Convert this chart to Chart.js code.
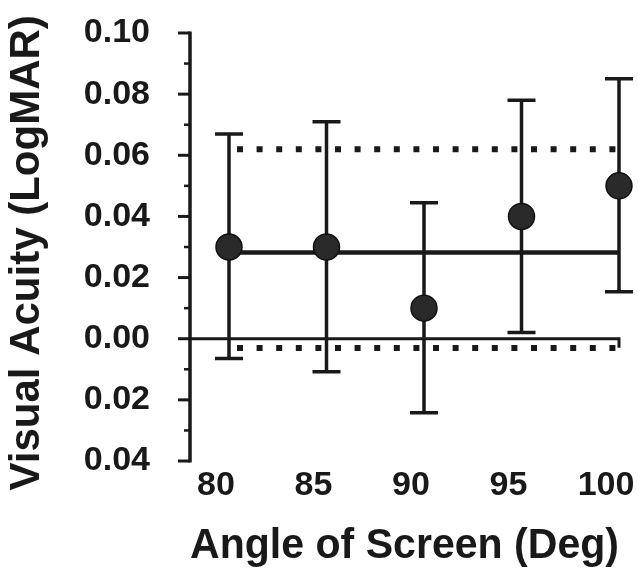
<!DOCTYPE html>
<html>
<head>
<meta charset="utf-8">
<script src="https://cdn.jsdelivr.net/npm/chart.js@4.4.1/dist/chart.umd.min.js"></script>
<style>
    html, body { margin: 0; padding: 0; background: #fff; }
    #wrap { width: 638px; height: 573px; position: relative; }
</style>
</head>
<body>
<div id="wrap"><canvas id="chart"></canvas></div>
<script>
// Data
const angles = [80, 85, 90, 95, 100];
const meanAcuity = [0.030, 0.030, 0.010, 0.040, 0.050];
const upperError = [0.067, 0.071, 0.0445, 0.078, 0.085];
const lowerError = [-0.0065, -0.0108, -0.0242, 0.002, 0.0154];

// Reference lines: overall mean and limits of agreement
const overallMean = 0.0282;
const upperLimit = 0.062;
const lowerLimit = -0.003;

// Axis ticks
const xTicks = [80, 85, 90, 95, 100];
const yMajorTicks = [-0.04, -0.02, 0.00, 0.02, 0.04, 0.06, 0.08, 0.10];
const yMinorTicks = [-0.03, -0.01, 0.01, 0.03, 0.05, 0.07, 0.09];

const INK = '#191919';
const FONT = "'Liberation Sans', Arial, sans-serif";

// Error bars, axis line, tick marks and zero line
const errorBarPlugin = {
    id: 'errorBars',
    beforeDatasetsDraw(chart) {
        const { ctx, chartArea } = chart;
        const xs = chart.scales.x;
        const ys = chart.scales.y;
        ctx.save();
        ctx.strokeStyle = INK;
        ctx.lineCap = 'butt';

        // y axis line
        ctx.lineWidth = 3.5;
        ctx.beginPath();
        ctx.moveTo(chartArea.left, ys.getPixelForValue(yMajorTicks[0]) + 1.5);
        ctx.lineTo(chartArea.left, ys.getPixelForValue(yMajorTicks[yMajorTicks.length - 1]) - 1.5);
        ctx.stroke();

        // major / minor ticks
        ctx.lineWidth = 3;
        yMajorTicks.forEach(v => {
            const py = ys.getPixelForValue(v);
            ctx.beginPath();
            ctx.moveTo(chartArea.left - 12, py);
            ctx.lineTo(chartArea.left, py);
            ctx.stroke();
        });
        ctx.lineWidth = 2.5;
        yMinorTicks.forEach(v => {
            const py = ys.getPixelForValue(v);
            ctx.beginPath();
            ctx.moveTo(chartArea.left - 6, py);
            ctx.lineTo(chartArea.left, py);
            ctx.stroke();
        });

        // zero line with end tick
        const y0 = ys.getPixelForValue(0);
        const xEnd = xs.getPixelForValue(xTicks[xTicks.length - 1]);
        ctx.lineWidth = 3;
        ctx.beginPath();
        ctx.moveTo(chartArea.left, y0);
        ctx.lineTo(xEnd, y0);
        ctx.lineTo(xEnd, y0 + 9);
        ctx.stroke();

        // error bars
        ctx.lineWidth = 3.5;
        angles.forEach((a, i) => {
            const px = xs.getPixelForValue(a);
            const top = ys.getPixelForValue(upperError[i]);
            const bot = ys.getPixelForValue(lowerError[i]);
            ctx.beginPath();
            ctx.moveTo(px, top);
            ctx.lineTo(px, bot);
            ctx.moveTo(px - 14, top);
            ctx.lineTo(px + 14, top);
            ctx.moveTo(px - 14, bot);
            ctx.lineTo(px + 14, bot);
            ctx.stroke();
        });
        ctx.restore();
    }
};

const hLine = (value, from, to) => [{ x: from, y: value }, { x: to, y: value }];

new Chart(document.getElementById('chart'), {
    type: 'scatter',
    data: {
        datasets: [
            {
                label: 'Mean',
                data: angles.map((a, i) => ({ x: a, y: meanAcuity[i] })),
                pointRadius: 13,
                backgroundColor: '#2a2a2a',
                borderColor: '#111',
                borderWidth: 1.5,
                clip: false,
                order: 0
            },
            {
                type: 'line',
                label: 'Overall mean',
                data: hLine(overallMean, angles[0], angles[angles.length - 1]),
                borderColor: INK,
                borderWidth: 4.5,
                pointRadius: 0,
                clip: false,
                order: 1
            },
            {
                type: 'line',
                label: 'Upper limit',
                data: hLine(upperLimit, angles[0], angles[angles.length - 1]),
                borderColor: INK,
                borderWidth: 6,
                borderDash: [6, 13.6],
                borderDashOffset: 11.6,
                borderCapStyle: 'butt',
                pointRadius: 0,
                clip: false,
                order: 2
            },
            {
                type: 'line',
                label: 'Lower limit',
                data: hLine(lowerLimit, angles[0], angles[angles.length - 1]),
                borderColor: INK,
                borderWidth: 6,
                borderDash: [6, 13.6],
                borderDashOffset: 11.6,
                borderCapStyle: 'butt',
                pointRadius: 0,
                clip: false,
                order: 3
            }
        ]
    },
    options: {
        responsive: true,
        maintainAspectRatio: false,
        animation: false,
        layout: { padding: { top: 33, right: 19, bottom: 0, left: 0 } },
        plugins: {
            legend: { display: false },
            tooltip: { enabled: false }
        },
        scales: {
            x: {
                type: 'linear',
                min: 78,
                max: 100,
                afterBuildTicks: scale => { scale.ticks = xTicks.map(v => ({ value: v })); },
                afterFit: scale => {
                    scale.height = 112;
                    scale.paddingLeft = 0;
                    scale.paddingRight = 0;
                },
                grid: { display: false, drawTicks: false },
                border: { display: false },
                ticks: {
                    color: INK,
                    font: { family: FONT, size: 34, weight: 'bold' },
                    padding: 4,
                    labelOffset: -13,
                    maxRotation: 0,
                    autoSkip: false
                },
                title: {
                    display: true,
                    text: 'Angle of Screen (Deg)',
                    color: INK,
                    font: { family: FONT, size: 42, weight: 'bold' },
                    padding: { top: 0, bottom: 1 }
                }
            },
            y: {
                type: 'linear',
                min: -0.04,
                max: 0.10,
                afterBuildTicks: scale => { scale.ticks = yMajorTicks.map(v => ({ value: v })); },
                afterFit: scale => {
                    scale.width = 190;
                    scale.paddingTop = 0;
                    scale.paddingBottom = 0;
                },
                grid: { display: false, drawTicks: false },
                border: { display: false },
                ticks: {
                    color: INK,
                    font: { family: FONT, size: 34, weight: 'bold' },
                    padding: 40,
                    autoSkip: false,
                    callback: v => Math.abs(v).toFixed(2)
                },
                title: {
                    display: true,
                    // trailing space nudges the rotated title down to match the figure
                    text: 'Visual Acuity (LogMAR) ',
                    color: INK,
                    font: { family: FONT, size: 42, weight: 'bold' },
                    padding: { top: 2, bottom: 0 }
                }
            }
        }
    },
    plugins: [errorBarPlugin]
});
</script>
</body>
</html>
